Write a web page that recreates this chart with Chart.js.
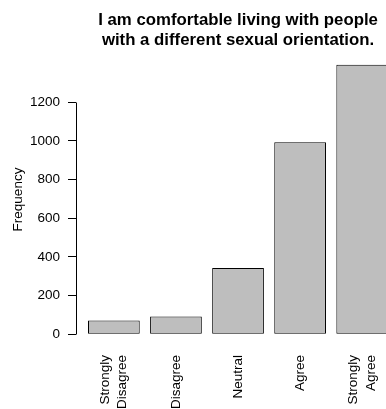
<!DOCTYPE html>
<html>
<head>
<meta charset="utf-8">
<script src="https://cdn.jsdelivr.net/npm/chart.js@4.4.0/dist/chart.umd.min.js"></script>
<style>
    html, body { margin: 0; padding: 0; background: #fff; overflow: hidden; }
    canvas { display: block; }
</style>
</head>
<body>
<canvas id="freqChart" width="386" height="409"></canvas>
<script>
// values
const categories = [['Strongly', 'Disagree'], 'Disagree', 'Neutral', 'Agree', ['Strongly', 'Agree']];
const counts = [71, 92, 342, 993, 1394];
const yTicks = [0, 200, 400, 600, 800, 1000, 1200];
const titleLines = ['I am comfortable living with people', 'with a different sexual orientation.'];

// R barplot geometry: bar width 1, space 0.2
const space = 0.2;
const barCenters = categories.map((c, i) => space + i * (1 + space) + 0.5);
const xSpan = categories.length * (1 + space) - space;
const xMin = space - 0.04 * xSpan;
const xMaxFull = space + xSpan + 0.04 * xSpan;
const xMaxVisible = 5.96; // the picture is cut at the right edge
const yMax = Math.max(...counts);

const FONT = '"Liberation Sans", Arial, Helvetica, sans-serif';
const AXIS_FONT = '13.5px ' + FONT;
const LABEL_LINE = 17.5;

const rAxisPlugin = {
    id: 'rAxis',
    afterDraw(chart) {
        const { ctx, chartArea, scales } = chart;
        const y = scales.y;
        const x = scales.x;

        ctx.save();
        ctx.strokeStyle = '#000';
        ctx.fillStyle = '#000';
        ctx.lineWidth = 1;

        // y axis line only spans the tick range like R does
        const ax = Math.round(chartArea.left) + 0.5;
        ctx.beginPath();
        ctx.moveTo(ax, Math.round(y.getPixelForValue(yTicks[0])) + 0.5);
        ctx.lineTo(ax, Math.round(y.getPixelForValue(yTicks[yTicks.length - 1])) + 0.5);
        ctx.stroke();

        // category names, rotated, centred under each bar
        ctx.font = AXIS_FONT;
        ctx.textAlign = 'right';
        ctx.textBaseline = 'middle';
        categories.forEach((cat, i) => {
            const lines = Array.isArray(cat) ? cat : [cat];
            ctx.save();
            ctx.translate(x.getPixelForValue(barCenters[i]), chartArea.bottom + 10);
            ctx.rotate(-Math.PI / 2);
            lines.forEach((line, j) => {
                ctx.fillText(line, 0, (j - (lines.length - 1) / 2) * LABEL_LINE);
            });
            ctx.restore();
        });

        // title centred over the plot region
        ctx.font = 'bold 16.8px ' + FONT;
        ctx.textAlign = 'center';
        ctx.textBaseline = 'alphabetic';
        const cx = x.getPixelForValue((xMin + xMaxFull) / 2);
        titleLines.forEach((line, i) => {
            ctx.fillText(line, cx, 25 + i * 19.5);
        });
        ctx.restore();
    }
};

new Chart(document.getElementById('freqChart'), {
    type: 'bar',
    data: {
        datasets: [{
            label: 'Frequency',
            data: counts.map((v, i) => ({ x: barCenters[i], y: v })),
            backgroundColor: '#bebebe',
            borderColor: '#000',
            borderWidth: 1,
            borderSkipped: false,
            barPercentage: 1 / (1 + space),
            categoryPercentage: 1,
        }],
    },
    options: {
        responsive: false,
        animation: false,
        layout: { padding: { top: 54, left: 0, right: 0, bottom: 0 } },
        plugins: {
            legend: { display: false },
            tooltip: { enabled: false },
            title: { display: false },
        },
        scales: {
            x: {
                type: 'linear',
                offset: false,
                min: xMin,
                max: xMaxVisible,
                grid: { display: false, drawTicks: false, offset: false },
                border: { display: false },
                afterBuildTicks: scale => {
                    scale.ticks = barCenters.map(v => ({ value: v }));
                },
                afterFit: scale => {
                    scale.height = 64;
                    scale.paddingLeft = 0;
                    scale.paddingRight = 0;
                },
                ticks: { display: false },
            },
            y: {
                min: -0.04 * yMax,
                max: 1.04 * yMax,
                grid: {
                    drawOnChartArea: false,
                    drawTicks: true,
                    tickLength: 8,
                    color: '#000',
                },
                border: { display: false },
                afterBuildTicks: scale => {
                    scale.ticks = yTicks.map(v => ({ value: v }));
                },
                afterFit: scale => {
                    scale.width = 76;
                },
                ticks: {
                    padding: 8,
                    color: '#000',
                    font: { family: FONT, size: 13.5 },
                    callback: value => String(value),
                },
                title: {
                    display: true,
                    text: 'Frequency',
                    color: '#000',
                    font: { family: FONT, size: 13.5 },
                    padding: { top: 10, bottom: 0 },
                },
            },
        },
    },
    plugins: [rAxisPlugin],
});
</script>
</body>
</html>
